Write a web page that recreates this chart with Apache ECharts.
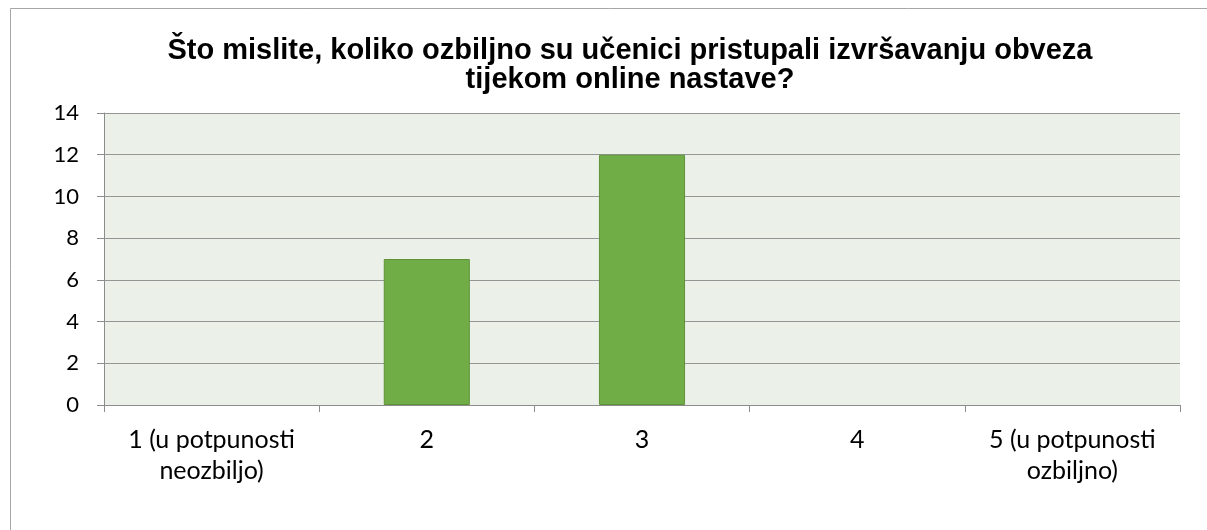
<!DOCTYPE html>
<html>
<head>
<meta charset="utf-8">
<script src="https://cdn.jsdelivr.net/npm/echarts@6/dist/echarts.min.js"></script>
<style>
  html, body { margin: 0; padding: 0; background: #fff; overflow: hidden; }
  #chart { width: 1207px; height: 530px; }
</style>
</head>
<body>
<div id="chart"></div>
<script>
// data
const categories = ['1 (u potpunosti\nneozbiljo)', '2', '3', '4', '5 (u potpunosti\nozbiljno)'];
const answers = [0, 7, 12, 0, 0];
const yTicks = [0, 2, 4, 6, 8, 10, 12, 14];

const chart = echarts.init(document.getElementById('chart'));

const option = {
  animation: false,
  backgroundColor: '#ffffff',
  title: {
    text: 'Što mislite, koliko ozbiljno su učenici pristupali izvršavanju obveza\ntijekom online nastave?',
    left: 625,
    top: 31,
    textAlign: 'center',
    textStyle: {
      fontFamily: '"Liberation Sans", Arial, sans-serif',
      fontWeight: 'bold',
      fontSize: 29,
      lineHeight: 29,
      color: '#000'
    }
  },
  graphic: [
    {
      type: 'polyline',
      shape: { points: [[10.5, 540], [10.5, 8.5], [1220, 8.5]] },
      style: { stroke: '#a6a6a6', lineWidth: 1, fill: null },
      silent: true
    }
  ],
  grid: {
    left: 104,
    top: 113,
    right: 27,
    bottom: 125,
    show: true,
    backgroundColor: '#ebf1e9',
    borderWidth: 0
  },
  xAxis: {
    type: 'category',
    data: categories,
    axisLine: { lineStyle: { color: '#8c8c8c', width: 1 } },
    axisTick: { show: true, length: 7, lineStyle: { color: '#8c8c8c' } },
    axisLabel: {
      interval: 0,
      margin: 19,
      color: '#000',
      fontFamily: 'Lato, sans-serif',
      fontSize: 25,
      lineHeight: 31
    }
  },
  yAxis: {
    type: 'value',
    min: yTicks[0],
    max: yTicks[yTicks.length - 1],
    interval: 2,
    axisLine: { show: true, lineStyle: { color: '#8c8c8c', width: 1 } },
    axisTick: { show: true, length: 7, lineStyle: { color: '#8c8c8c' } },
    splitLine: { lineStyle: { color: '#969696', width: 1 } },
    axisLabel: {
      margin: 25,
      color: '#000',
      fontFamily: 'Lato, sans-serif',
      fontSize: 22
    }
  },
  series: [
    {
      type: 'bar',
      // zero answers draw no bar at all
      data: answers.map(v => (v === 0 ? '-' : v)),
      barWidth: '40%',
      itemStyle: {
        color: '#70ad47',
        borderColor: '#5f9238',
        borderWidth: 1
      }
    }
  ]
};

chart.setOption(option);
</script>
</body>
</html>
